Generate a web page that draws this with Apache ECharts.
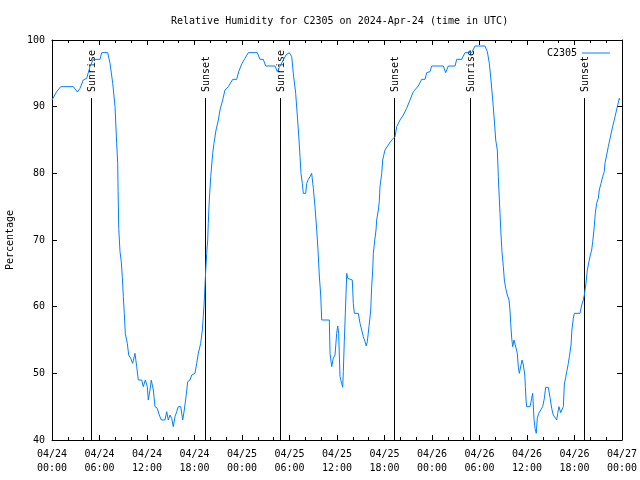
<!DOCTYPE html>
<html><head><meta charset="utf-8">
<script src="https://cdn.jsdelivr.net/npm/echarts@6/dist/echarts.min.js"></script>
<style>html,body{margin:0;padding:0;background:#fff}#c{width:640px;height:480px}</style>
</head><body><div id="c"></div>
<script>
// hours since 2024-04-24 00:00 UTC
const hours = [0,0.59,1.10,2.69,3.20,3.54,3.95,4.38,4.80,5.22,6.06,6.28,7.04,7.33,7.67,7.96,8.17,8.30,8.35,8.43,8.59,8.75,8.88,9.01,9.13,9.26,9.51,9.69,9.94,10.19,10.48,10.70,10.90,11.33,11.53,11.79,12.04,12.16,12.38,12.54,12.80,13.01,13.30,13.55,13.81,14.27,14.49,14.69,14.91,15.12,15.32,15.54,15.75,15.95,16.26,16.51,16.71,16.93,17.14,17.43,17.65,18.06,18.28,18.48,18.78,18.99,19.11,19.24,19.33,19.42,19.54,19.67,19.74,19.87,20.05,20.30,20.46,20.72,21.01,21.22,21.56,21.85,22.27,22.83,23.33,23.58,24.0,24.38,24.80,25.93,26.27,26.69,26.99,28.17,28.46,28.71,29.22,29.56,29.97,30.28,30.48,30.78,31.03,31.20,31.33,31.45,31.62,31.74,32.05,32.17,32.38,32.59,32.80,33.01,33.22,33.44,33.60,33.76,33.94,34.07,35.03,35.12,35.33,35.53,35.75,35.96,36.09,36.21,36.38,36.59,36.72,36.80,36.92,37.05,37.23,37.35,37.43,37.93,38.06,38.19,38.69,38.91,39.12,39.32,39.54,39.70,39.83,40.04,40.26,40.38,40.51,40.59,40.77,40.93,41.01,41.22,41.34,41.43,41.65,41.77,42.06,42.48,42.91,43.33,43.54,43.96,44.38,44.80,45.22,45.64,46.27,46.70,47.12,47.33,47.75,47.96,49.43,49.73,50.06,50.91,51.12,51.75,52.17,53.02,53.43,54.69,54.99,55.24,55.45,55.67,55.87,56.05,56.25,56.38,56.42,56.59,56.72,56.84,57.01,57.14,57.31,57.51,57.73,57.85,57.94,58.07,58.19,58.36,58.57,58.78,58.90,59.03,59.21,59.37,59.54,59.72,59.79,59.88,59.96,60.38,60.59,60.72,60.88,61.01,61.17,61.30,61.48,61.73,61.98,62.19,62.36,62.69,62.91,63.12,63.32,63.54,63.75,63.88,64.04,64.26,64.46,64.59,64.72,64.89,65.02,65.22,65.35,65.56,65.68,65.85,65.98,66.69,66.91,67.11,67.24,67.45,67.62,67.87,68.0,68.17,68.30,68.46,68.63,68.80,69.01,69.13,69.35,69.56,69.76,69.85,70.27,70.72,71.12,71.41,71.66,71.75];
const humidity = [91,92.25,93,93,92.2,92.75,94,94.25,96,97.1,97.1,98.1,98.1,96.5,93.5,90,84.5,81.5,77.25,71.75,68.25,66.75,64.5,61.5,59,56,54.5,52.75,52.25,51.5,53,51,49,49,48,49,48,46,47.5,49,47.5,45,44.75,43.75,43,43,44.25,43,43.75,43.25,42,43.5,44.25,45,45,43,44.5,46.5,48.75,49,49.75,50,51.5,53,54.5,56.5,58.5,61,63.25,65.5,68,70,72.5,76,79.5,83,84.5,86.5,88,89.5,91,92.5,93,94.1,94.1,95.25,96.5,97.25,98.1,98.1,97.1,97.1,96.1,96.1,95.25,95.9,97,97.75,98.1,97.5,95,92,88,85,82.5,80,78.5,77,77,78.5,79.1,79.5,80,77.75,75,71.5,68.5,64.75,61.75,58,58,53,51,52.25,52.75,56,57.1,56,49.5,48.5,47.9,50.25,54.75,59,65,64.25,64,64,60.5,59,59,57.5,56.5,55.5,54.75,54.1,54.75,57,59.5,63,65.5,68,70,71.5,73,74.5,75.75,78,80,82,83.5,84.25,85,85.5,87,88,88.75,89.75,91,92.25,93.1,94.1,94.1,95.1,95.25,96.1,96.1,95.1,96.1,96.1,97.1,97.1,98.1,98.1,99.1,99.1,98.25,96.5,94,91,88,85,83.5,79.5,78.25,74,70.75,68.25,66,64,62.75,61.75,61,59.5,57.5,55.25,54,55,54.75,53,51,50,50,52,51.25,49.75,48,46,45,45,46.25,47,43.25,41.75,41,43.25,44,44.1,45,46.25,47.9,47.9,46.4,44.75,43.75,43.5,43,44,45,44.1,44.1,45,48.4,49.4,50.25,51.5,52.5,54.25,56.6,58.25,59,59,60.25,61,61.75,63.5,65.5,67,67.75,68.5,69.75,71.5,74,75.5,76.25,77.5,78.5,79.5,80.25,81.5,84,86.5,88.5,90,91.25,91];
const sunHours = [4.93, 19.33, 28.8, 43.2, 52.8, 67.2];
const sunLabels = ['Sunrise','Sunset','Sunrise','Sunset','Sunrise','Sunset'];
const sunLineTop = 91.3;
const xTickLabels = ['04/24\n00:00','04/24\n06:00','04/24\n12:00','04/24\n18:00','04/25\n00:00','04/25\n06:00','04/25\n12:00','04/25\n18:00','04/26\n00:00','04/26\n06:00','04/26\n12:00','04/26\n18:00','04/27\n00:00'];
const yTicks = [40,50,60,70,80,90,100];

const FONT = 'DejaVu Sans Mono';
const chart = echarts.init(document.getElementById('c'), null, {renderer:'canvas'});
const lineData = hours.map((h,i)=>[h, humidity[i]]);
const sunData = sunHours.map((h,i)=>[h, i]);
const axisCommon = {
  type:'value', axisLine:{show:true, onZero:false, lineStyle:{color:'#000', width:1}},
  splitLine:{show:false}
};
chart.setOption({
  animation:false,
  textStyle:{fontFamily:FONT},
  title:{text:'Relative Humidity for C2305 on 2024-Apr-24 (time in UTC)', left:166, top:11,
    textStyle:{fontFamily:FONT, fontSize:10, fontWeight:'normal', color:'#000'}},
  legend:{data:['C2305'], right:25, top:43, align:'right', icon:'rect', itemWidth:28, itemHeight:1,
    textStyle:{fontFamily:FONT, fontSize:10, color:'#000'}},
  grid:{left:52, right:18, top:40, bottom:40, containLabel:false, outerBoundsMode:'none'},
  xAxis:[
    Object.assign({}, axisCommon, {min:0, max:72, interval:6, position:'bottom',
      axisTick:{show:true, inside:true, length:5, lineStyle:{color:'#000'}},
      minorTick:{show:true, splitNumber:3, length:3, lineStyle:{color:'#000'}},
      axisLabel:{fontFamily:FONT, fontSize:10, color:'#000', margin:7, lineHeight:14,
        formatter:(v)=>xTickLabels[Math.round(v/6)]}}),
    Object.assign({}, axisCommon, {min:0, max:72, interval:6, position:'top',
      axisTick:{show:true, inside:true, length:5, lineStyle:{color:'#000'}},
      minorTick:{show:true, splitNumber:3, length:3, lineStyle:{color:'#000'}},
      axisLabel:{show:false}})
  ],
  yAxis:[
    Object.assign({}, axisCommon, {min:yTicks[0], max:yTicks[yTicks.length-1], interval:10, position:'left',
      name:'Percentage', nameLocation:'middle', nameGap:37,
      nameTextStyle:{fontFamily:FONT, fontSize:10, color:'#000'},
      axisTick:{show:true, inside:true, length:5, lineStyle:{color:'#000'}},
      axisLabel:{fontFamily:FONT, fontSize:10, color:'#000', margin:7}}),
    Object.assign({}, axisCommon, {min:yTicks[0], max:yTicks[yTicks.length-1], interval:10, position:'right',
      axisTick:{show:true, inside:true, length:5, lineStyle:{color:'#000'}},
      axisLabel:{show:false}})
  ],
  series:[
    {name:'C2305', type:'line', data:lineData, symbol:'none', showSymbol:false,
      lineStyle:{color:'#0080ff', width:1}, itemStyle:{color:'#0080ff'}, z:3},
    {name:'sun', type:'custom', data:sunData, z:2, silent:true,
      renderItem:(params, api)=>{
        const h = api.value(0);
        const idx = api.value(1);
        const p0 = api.coord([h, yTicks[0]]);
        const p1 = api.coord([h, sunLineTop]);
        const cx = Math.round(p0[0]) + 0.5;
        return {type:'group', children:[
          {type:'line', shape:{x1:cx, y1:p0[1], x2:cx, y2:Math.round(p1[1])}, style:{stroke:'#000', lineWidth:1}},
          {type:'text', x:cx+1, y:p1[1]-6, rotation:Math.PI/2,
            style:{text:sunLabels[idx], fontFamily:FONT, fontSize:10, fill:'#000', align:'left', verticalAlign:'middle'}}
        ]};
      }}
  ]
});
</script></body></html>
